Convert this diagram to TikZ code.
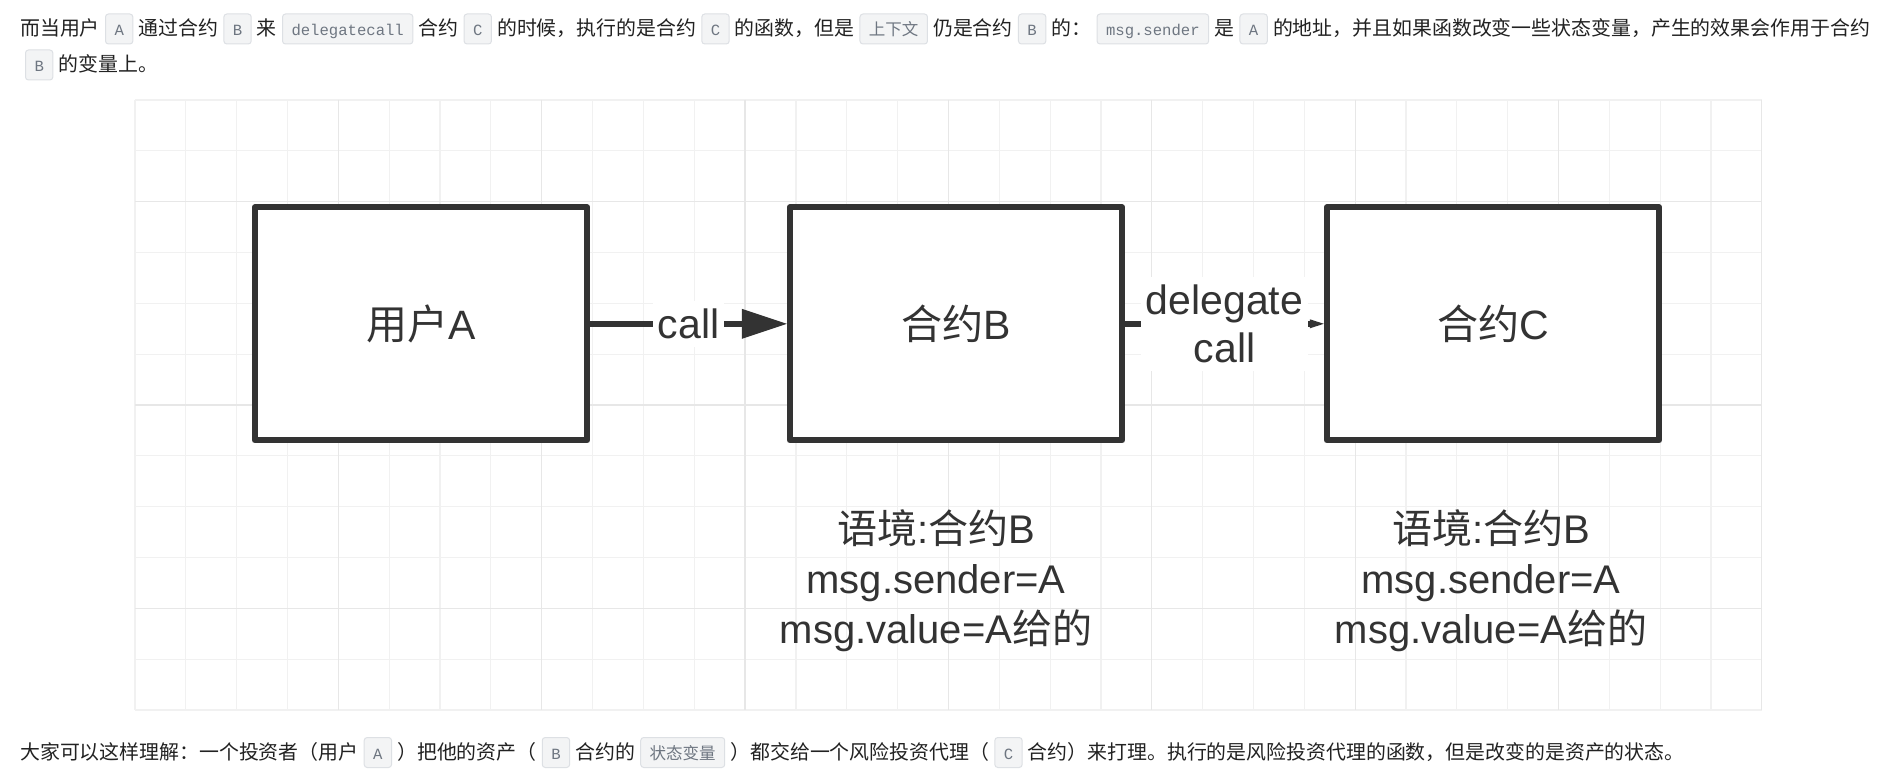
\documentclass[tikz,border=0pt]{standalone}
\usepackage{fontspec}
\setmainfont{Liberation Sans}
\setmonofont{Liberation Mono}
\newfontfamily\cjk{Noto Sans CJK SC}
\usetikzlibrary{arrows.meta}
\definecolor{ink}{HTML}{222222}
\definecolor{dk}{HTML}{333333}
\definecolor{codebg}{HTML}{F3F4F5}
\definecolor{codeline}{HTML}{DDE0E4}
\definecolor{codeink}{HTML}{6E7681}
\definecolor{gmin}{HTML}{F1F1F1}
\definecolor{gmaj}{HTML}{E7E7E7}
\newcommand\zh[1]{{\cjk #1}}
\newcommand\ptextfont{\cjk\fontsize{19.9pt}{36pt}\selectfont}
\newcommand\pcodefont{\ttfamily\fontsize{15.6pt}{18pt}\selectfont}
\newcommand\pcodezh{\cjk\fontsize{16.5pt}{18pt}\selectfont}
\newcommand\dgfont{\fontsize{41pt}{48pt}\selectfont}
\newcommand\lbfont{\fontsize{40pt}{50pt}\selectfont}
\begin{document}
\begin{tikzpicture}[x=1pt,y=-1pt,
  txt/.style={font=\ptextfont, text=ink, inner sep=0pt, anchor=base west},
  codebox/.style={font=\pcodefont, text=codeink, fill=codebg, draw=codeline,
    line width=1pt, rounded corners=3pt, inner xsep=9pt, inner ysep=7pt,
    text height=15pt, text depth=1pt, anchor=base west},
  gridminor/.style={draw=gmin, line width=1.2pt},
  gridmajor/.style={draw=gmaj, line width=1.2pt},
  blockbox/.style={draw=dk, line width=6pt, line join=round, minimum width=332.3pt,
    minimum height=233pt, inner sep=0pt, font=\dgfont, text=dk, fill=white},
  conn/.style={draw=dk, line width=6pt},
  arrlbl/.style={font=\dgfont, text=dk, fill=white, inner xsep=5pt, inner ysep=8pt, align=center},
  ctx/.style={font=\lbfont, text=dk, align=center, inner sep=0pt}
]
\useasboundingbox (0,0) rectangle (1883,778);
\fill[white] (0,0) rectangle (1883,778);

% grid
\foreach \i in {0,...,32} \draw[gridminor] ({135+\i*50.84},100) -- ({135+\i*50.84},710.1);
\foreach \j in {0,...,12} \draw[gridminor] (135,{100+\j*50.84}) -- (1761.9,{100+\j*50.84});
\foreach \i in {4,8,...,32} \draw[gridmajor] ({135+\i*50.84},100) -- ({135+\i*50.84},710.1);
\foreach \j in {2,6,10} \draw[gridmajor] (135,{100+\j*50.84}) -- (1761.9,{100+\j*50.84});

% boxes
\node[blockbox] (A) at (421,323.8) {\zh{用户}A};
\node[blockbox] (B) at (956,323.8) {\zh{合约}B};
\node[blockbox] (C) at (1493,323.8) {\zh{合约}C};

% connectors
\draw[conn, -{Triangle[length=45pt,width=30pt,line width=0pt]}] (A.east) -- node[arrlbl] (lblcall) {call} (B.west);
\draw[conn, -{Triangle[length=14pt,width=9pt,line width=0pt]}] (B.east) -- node[arrlbl] (lbldel) {delegate\\call} (C.west);

% context labels
\node[ctx] (ctxB) at (936,580.5) {\zh{语境}:\zh{合约}B\\msg.sender=A\\msg.value=A\zh{给的}};
\node[ctx] (ctxC) at (1491,580.5) {\zh{语境}:\zh{合约}B\\msg.sender=A\\msg.value=A\zh{给的}};

% top paragraph, line 1
\node[txt] (p1) at (20,36) {而当用户};
\node[codebox] (c1) at ([xshift=5pt]p1.base east) {A};
\node[txt] (p2) at ([xshift=5pt]c1.base east) {通过合约};
\node[codebox] (c2) at ([xshift=5pt]p2.base east) {B};
\node[txt] (p3) at ([xshift=5pt]c2.base east) {来};
\node[codebox] (c3) at ([xshift=5pt]p3.base east) {delegatecall};
\node[txt] (p4) at ([xshift=5pt]c3.base east) {合约};
\node[codebox] (c4) at ([xshift=5pt]p4.base east) {C};
\node[txt] (p5) at ([xshift=5pt]c4.base east) {的时候，执行的是合约};
\node[codebox] (c5) at ([xshift=5pt]p5.base east) {C};
\node[txt] (p6) at ([xshift=5pt]c5.base east) {的函数，但是};
\node[codebox] (c6) at ([xshift=5pt]p6.base east) {\pcodezh 上下文};
\node[txt] (p7) at ([xshift=5pt]c6.base east) {仍是合约};
\node[codebox] (c7) at ([xshift=5pt]p7.base east) {B};
\node[txt] (p8) at ([xshift=5pt]c7.base east) {的：};
\node[codebox] (c8) at ([xshift=5pt]p8.base east) {msg.sender};
\node[txt] (p9) at ([xshift=5pt]c8.base east) {是};
\node[codebox] (c9) at ([xshift=5pt]p9.base east) {A};
\node[txt] (p10) at ([xshift=5pt]c9.base east) {的地址，并且如果函数改变一些状态变量，产生的效果会作用于合约};
% line 2
\node[codebox] (c10) at (25,72) {B};
\node[txt] (p11) at ([xshift=5pt]c10.base east) {的变量上。};

% bottom paragraph
\node[txt] (q1) at (20,759.5) {大家可以这样理解：一个投资者（用户};
\node[codebox] (d1) at ([xshift=5pt]q1.base east) {A};
\node[txt] (q2) at ([xshift=5pt]d1.base east) {）把他的资产（};
\node[codebox] (d2) at ([xshift=5pt]q2.base east) {B};
\node[txt] (q3) at ([xshift=5pt]d2.base east) {合约的};
\node[codebox] (d3) at ([xshift=5pt]q3.base east) {\pcodezh 状态变量};
\node[txt] (q4) at ([xshift=5pt]d3.base east) {）都交给一个风险投资代理（};
\node[codebox] (d4) at ([xshift=5pt]q4.base east) {C};
\node[txt] (q5) at ([xshift=5pt]d4.base east) {合约）来打理。执行的是风险投资代理的函数，但是改变的是资产的状态。};
\end{tikzpicture}
\end{document}
